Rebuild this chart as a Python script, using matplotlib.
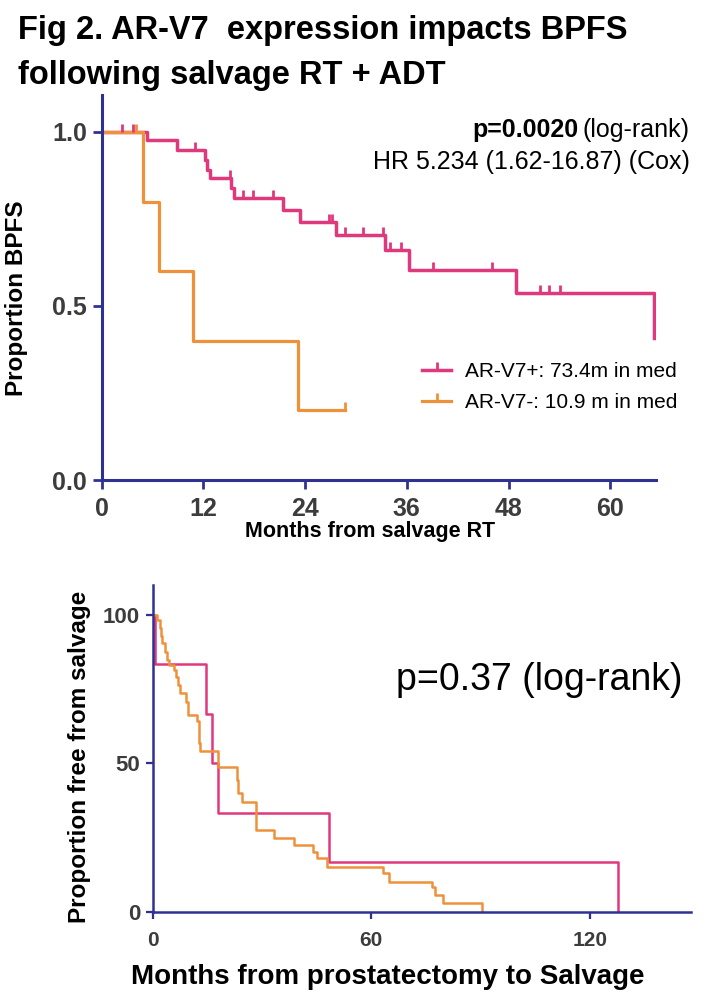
import numpy as np
import matplotlib
matplotlib.use('Agg')
import matplotlib.pyplot as plt
from matplotlib.lines import Line2D

# ---- top panel: BPFS after salvage RT + ADT ----
pos_t = [0, 5.3, 8.85, 12.2, 12.4, 12.8, 15.3, 15.6, 21.4, 23.4, 27.6, 33.4, 36.2, 48.9, 65.2]
pos_s = [1.0, 0.976, 0.948, 0.920, 0.891, 0.867, 0.838, 0.809, 0.776, 0.742, 0.704, 0.661, 0.603, 0.538, 0.407]
pos_cens_t = [2.4, 3.7, 11.0, 15.1, 16.7, 17.8, 20.2, 26.8, 27.2, 28.7, 30.8, 33.2, 34.0, 35.3, 39.1, 46.0, 51.7, 52.8, 54.1]
pos_cens_s = [1.0, 1.0, 0.948, 0.867, 0.809, 0.809, 0.809, 0.742, 0.742, 0.704, 0.704, 0.704, 0.661, 0.661, 0.603, 0.603, 0.538, 0.538, 0.538]

neg_t = [0, 4.9, 6.8, 10.8, 23.2, 28.7]
neg_s = [1.0, 0.8, 0.6, 0.4, 0.2, 0.2]
neg_cens_t = [4.05, 28.7]
neg_cens_s = [1.0, 0.2]

# ---- bottom panel: free from salvage after prostatectomy (%) ----
pos2_t = [0, 0.66, 14.6, 16.4, 18.0, 48.5, 127.8]
pos2_s = [100, 83.3, 66.7, 50.0, 33.3, 16.7, 0]

neg2_t = [0, 1.1, 1.9, 2.3, 2.7, 3.3, 3.9, 4.4, 5.9, 6.4, 7.1, 7.6, 9.1, 9.6, 12.1, 12.6, 13.0,
          18.0, 23.2, 23.5, 24.4, 28.5, 33.3, 38.9, 43.9, 45.0, 47.8, 63.1, 64.9, 76.6, 77.5, 79.6, 90.5]
neg2_s = [100, 98.3, 95.5, 92.7, 90.5, 87.6, 84.8, 83.2, 81.5, 79.2, 76.4, 73.6, 70.8, 66.3, 64.1, 56.8, 54.0,
          48.9, 44.4, 40.0, 37.1, 27.6, 24.8, 22.6, 20.3, 18.1, 15.3, 13.0, 10.2, 8.5, 5.7, 3.1, 0]

pink = '#E0387D'
orange = '#EF913A'
navy = '#2E3192'
tickgray = '#3C3C3C'

plt.rcParams['font.family'] = ['Liberation Sans', 'DejaVu Sans']

fig = plt.figure(figsize=(7.2, 9.94), dpi=100)
W, H = 720.0, 994.0

# top axes
ax1 = fig.add_axes([101.7 / W, 1 - 480 / H, (656 - 101.7) / W, (480 - 95) / H])
ax1.step(pos_t, pos_s, where='post', color=pink, lw=2.5)
ax1.step(neg_t, neg_s, where='post', color=orange, lw=2.3)
ax1.plot(pos_cens_t, pos_cens_s, ls='none', marker=2, ms=6, mew=2, color=pink)
ax1.plot(neg_cens_t, neg_cens_s, ls='none', marker=2, ms=6, mew=2, color=orange)
ax1.set_xlim(0, 65.4)
ax1.set_ylim(0, 1.106)
ax1.set_xticks([0, 12, 24, 36, 48, 60])
ax1.set_yticks([0.0, 0.5, 1.0])
ax1.set_yticklabels(['0.0', '0.5', '1.0'])

fig.text(578 / W, 1 - 130 / H, 'p=0.0020', fontsize=18, fontweight='bold', ha='right', va='center')
fig.text(690 / W, 1 - 130 / H, '(log-rank)', fontsize=18, ha='right', va='center')
fig.text(690 / W, 1 - 162 / H, 'HR 5.234 (1.62-16.87) (Cox)', fontsize=18, ha='right', va='center')

handles = [Line2D([], [], color=pink, lw=2.5, marker=2, ms=6, mew=2),
           Line2D([], [], color=orange, lw=2.3, marker=2, ms=6, mew=2)]
ax1.legend(handles, ['AR-V7+: 73.4m in med', 'AR-V7-: 10.9 m in med'],
           loc='upper left', bbox_to_anchor=(422 / W, 1 - 362 / H), bbox_transform=fig.transFigure,
           frameon=False, fontsize=15, handlelength=1.4, handletextpad=0.65,
           labelspacing=0.6, numpoints=1, borderaxespad=0, borderpad=0)

# bottom axes
ax2 = fig.add_axes([152.6 / W, 1 - 912 / H, (691 - 152.6) / W, (912 - 585) / H])
ax2.step(pos2_t, pos2_s, where='post', color=pink, lw=1.8)
ax2.step(neg2_t, neg2_s, where='post', color=orange, lw=1.8)
ax2.set_xlim(0, 147.7)
ax2.set_ylim(0, 110)
ax2.set_xticks([0, 60, 120])
ax2.set_yticks([0, 50, 100])
fig.text(539 / W, 1 - 680 / H, 'p=0.37 (log-rank)', fontsize=27, ha='center', va='center')

for ax, lw, tl, ts in [(ax1, 2.2, 6.5, 18), (ax2, 1.8, 5, 15)]:
    for s in ['top', 'right']:
        ax.spines[s].set_visible(False)
    for s in ['left', 'bottom']:
        ax.spines[s].set_color(navy)
        ax.spines[s].set_linewidth(lw)
    ax.tick_params(direction='out', length=tl, width=lw * 0.9, color=navy,
                   labelcolor=tickgray, labelsize=ts, pad=4)
    for lab in ax.get_xticklabels() + ax.get_yticklabels():
        lab.set_fontweight('bold')
ax1.tick_params(axis='x', pad=6)
ax2.tick_params(axis='x', pad=9)
ax2.tick_params(axis='y', labelsize=16)

# axis labels
fig.text(17 / W, 1 - 298 / H, 'Proportion BPFS', rotation=90, fontsize=17.5,
         fontweight='bold', ha='center', va='center')
fig.text(370 / W, 1 - 531 / H, 'Months from salvage RT', fontsize=15.5,
         fontweight='bold', ha='center', va='center')
fig.text(80 / W, 1 - 757 / H, 'Proportion free from salvage', rotation=90, fontsize=17.5,
         fontweight='bold', ha='center', va='center')
fig.text(388 / W, 1 - 977 / H, 'Months from prostatectomy to Salvage', fontsize=20,
         fontweight='bold', ha='center', va='center')

# title
fig.text(18 / W, 1 - 39 / H, 'Fig 2. AR-V7  expression impacts BPFS', fontsize=23.5,
         fontweight='bold', ha='left', va='baseline')
fig.text(18 / W, 1 - 84 / H, 'following salvage RT + ADT', fontsize=23.5,
         fontweight='bold', ha='left', va='baseline')

fig.savefig('out.png', dpi=100)
